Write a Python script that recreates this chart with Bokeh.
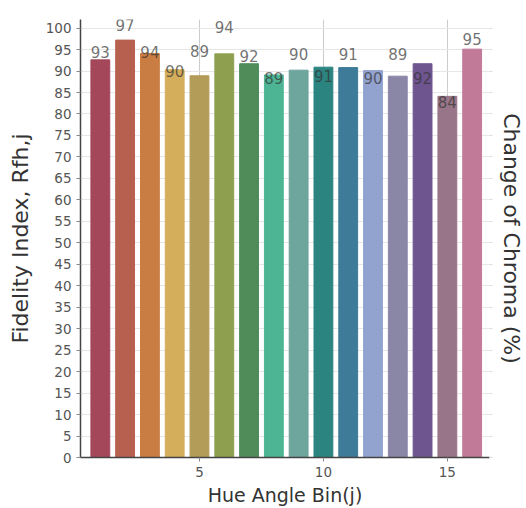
from bokeh.plotting import figure
from bokeh.models import ColumnDataSource, LinearAxis, Range1d, FixedTicker
from bokeh.embed import file_html
from bokeh.resources import INLINE

# ---- data ----
bins = list(range(1, 17))
fidelity = [92.6, 97.2, 94.1, 90.3, 88.9, 94.0, 91.7, 89.1, 90.2, 90.9, 90.8, 90.1, 88.8, 91.7, 84.1, 95.1]
labels = ["93", "97", "94", "90", "89", "94", "92", "89", "90", "91", "91", "90", "89", "92", "84", "95"]
colors = ["#A5475B", "#B86050", "#C97D42", "#D4AE5A", "#B39B58", "#8EA050", "#4F8C5A", "#4DB594",
          "#6EA59D", "#2B8480", "#3D7B99", "#93A3D0", "#8A86A6", "#6F5590", "#987588", "#C27A99"]
y_ticks = list(range(0, 101, 5))
x_ticks = [5, 10, 15]

# label placement (screen pixel offset of label centre from bar top; negative = up)
label_offsets = [-8, -15, -1, 1, -25, -27, -8, 3, -16, 9, -14, 7, -22, 14, 6, -10]

FONT = "DejaVu Sans"

p = figure(width=526, height=508, output_backend="svg", toolbar_location=None,
           x_range=Range1d(0.2, 16.7), y_range=Range1d(0, 102),
           min_border_left=80, min_border_right=36, min_border_top=19, min_border_bottom=51)
p.outline_line_color = None
p.background_fill_color = "white"

src = ColumnDataSource(dict(x=bins, top=fidelity, color=colors, label=labels, off=label_offsets))
p.vbar(x="x", top="top", width=0.76, color="color", source=src)

p.text(x="x", y="top", text="label", y_offset="off", source=src,
       text_align="center", text_baseline="middle", text_font_size="15px",
       text_color="#333333", text_alpha=0.7, text_font={"value": FONT})

# axes
p.yaxis.ticker = FixedTicker(ticks=y_ticks)
p.xaxis.ticker = FixedTicker(ticks=x_ticks)
for ax in (p.xaxis[0], p.yaxis[0]):
    ax.axis_line_color = "#444444"
    ax.axis_line_width = 1.5
    ax.major_tick_line_color = "#888888"
    ax.minor_tick_line_color = None
    ax.major_label_text_font = FONT
    ax.major_label_text_font_size = "13.5px"
    ax.major_label_text_color = "#555555"
    ax.axis_label_text_font = FONT
    ax.axis_label_text_font_style = "normal"
    ax.axis_label_text_color = "#333333"
p.yaxis.axis_label = "Fidelity Index, Rfh,j"
p.xaxis.axis_label = "Hue Angle Bin(j)"
p.xaxis.axis_label_text_font_size = "19px"
p.yaxis.axis_label_text_font_size = "22px"
p.yaxis.major_tick_in = 0
p.yaxis.major_tick_out = 4
p.xaxis.major_tick_in = 0
p.xaxis.major_tick_out = 4
p.xaxis.axis_label_standoff = 4
p.yaxis.axis_label_standoff = 10

right = LinearAxis(axis_label="Change of Chroma (%)", ticker=FixedTicker(ticks=y_ticks))
right.axis_line_color = None
right.major_tick_line_color = "#dddddd"
right.major_tick_in = 0
right.major_tick_out = 3
right.minor_tick_line_color = None
right.major_label_text_font_size = "0px"
right.major_label_text_color = None
right.axis_label_text_font = FONT
right.axis_label_text_font_size = "22px"
right.axis_label_text_font_style = "normal"
right.axis_label_text_color = "#333333"
right.axis_label_standoff = 6
p.add_layout(right, "right")

# grids
p.xgrid.ticker = FixedTicker(ticks=x_ticks)
p.xgrid.grid_line_color = "#cccccc"
p.ygrid.ticker = FixedTicker(ticks=y_ticks)
p.ygrid.grid_line_color = "#e6e6e6"

open("out.html", "w").write(file_html(p, INLINE))
